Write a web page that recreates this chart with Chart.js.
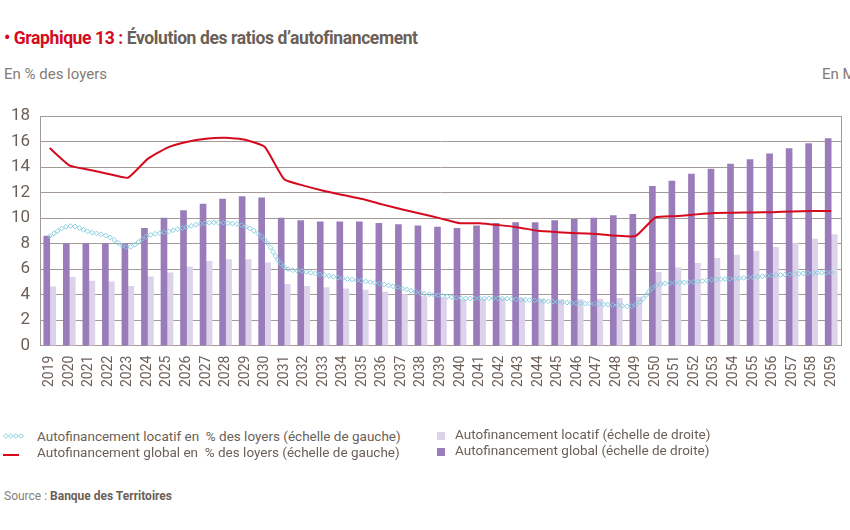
<!DOCTYPE html>
<html lang="fr">
<head>
<meta charset="utf-8">
<script src="https://cdn.jsdelivr.net/npm/chart.js@4.4.1/dist/chart.umd.min.js"></script>
<style>
  html, body { margin: 0; padding: 0; background: #fff; overflow: hidden; }
  body { width: 850px; height: 530px; position: relative; font-family: "Liberation Sans Narrow", "Roboto", "Liberation Sans", sans-serif; }
  .abs { position: absolute; white-space: nowrap; }
  #title { left: 4px; top: 28px; font-size: 17.5px; font-weight: bold; color: #6b5f58; letter-spacing: -0.4px; }
  #title .red { color: #d50a1e; }
  .unit { top: 65px; font-size: 15px; color: #857b76; }
  #wrap { position: absolute; left: 0; top: 96px; width: 850px; height: 293px; }
  .leg { font-size: 13.5px; color: #6b5f58; }
  .sq { position: absolute; width: 8px; height: 8px; }
  #source { left: 4px; top: 489px; font-size: 12px; color: #8a807a; }
  #source b { color: #6b5f58; }
</style>
</head>
<body>
<div id="title" class="abs"><span class="red">&bull; Graphique 13 :</span> Évolution des ratios d’autofinancement</div>
<div class="abs unit" style="left:4px">En % des loyers</div>
<div class="abs unit" style="left:822px">En Md€</div>

<div id="wrap"><canvas id="ratios"></canvas></div>

<!-- legende -->
<canvas id="legDiam" class="abs" width="24" height="10" style="left:2px;top:431px"></canvas>
<div class="abs leg" style="left:37px;top:428px">Autofinancement locatif en&nbsp; % des loyers (échelle de gauche)</div>
<div class="abs" style="left:3px;top:454px;width:16px;height:2px;background:#d50a1e"></div>
<div class="abs leg" style="left:37px;top:444px">Autofinancement global en&nbsp; % des loyers (échelle de gauche)</div>
<div class="sq" style="left:437px;top:432px;background:#dcd3ea"></div>
<div class="abs leg" style="left:455px;top:426px">Autofinancement locatif (échelle de droite)</div>
<div class="sq" style="left:437px;top:448px;background:#9a7cbb"></div>
<div class="abs leg" style="left:455px;top:442px">Autofinancement global (échelle de droite)</div>

<div id="source" class="abs">Source : <b>Banque des Territoires</b></div>

<script>
// years 2019..2059
const years = ['2019','2020','2021','2022','2023','2024','2025','2026','2027','2028',
  '2029','2030','2031','2032','2033','2034','2035','2036','2037','2038',
  '2039','2040','2041','2042','2043','2044','2045','2046','2047','2048',
  '2049','2050','2051','2052','2053','2054','2055','2056','2057','2058','2059'];

// left axis, % des loyers
const locatifPct = [8.6,9.37,8.93,8.55,7.72,8.6,8.93,9.3,9.62,9.62,
  9.35,8.3,6.17,5.82,5.55,5.27,5.07,4.82,4.5,4.12,
  3.92,3.72,3.7,3.7,3.62,3.52,3.42,3.32,3.27,3.17,
  3.2,4.67,4.92,5.0,5.17,5.25,5.37,5.5,5.6,5.7,5.72];
const globalPct = [15.5,14.15,13.8,13.47,13.17,14.63,15.52,15.97,16.23,16.3,
  16.15,15.6,13.05,12.55,12.15,11.82,11.5,11.08,10.7,10.35,
  9.98,9.6,9.6,9.45,9.27,9.0,8.9,8.82,8.75,8.62,
  8.6,10.05,10.15,10.28,10.4,10.42,10.45,10.47,10.52,10.55,10.55];

// right axis (bars)
const locatifBar = [4.6,5.35,5.05,5.0,4.65,5.4,5.7,6.15,6.6,6.75,
  6.75,6.5,4.8,4.65,4.55,4.45,4.35,4.2,4.0,3.85,
  3.7,3.6,3.65,3.7,3.7,3.65,3.6,3.6,3.65,3.7,
  3.8,5.75,6.1,6.45,6.85,7.1,7.4,7.7,8.05,8.35,8.7];
const globalBar = [8.6,8.0,8.0,8.0,8.0,9.2,10.0,10.6,11.1,11.5,
  11.7,11.6,10.0,9.8,9.7,9.7,9.7,9.6,9.5,9.4,
  9.3,9.2,9.4,9.6,9.65,9.65,9.8,9.9,10.0,10.2,
  10.3,12.5,12.9,13.45,13.85,14.25,14.6,15.05,15.45,15.85,16.25];

const yTicks = [0, 2, 4, 6, 8, 10, 12, 14, 16, 18];

const CYAN = '#86cfe0';
const TXT = '#6b5f58';
const GRID = '#a39a95';
const FONT = '"Liberation Sans Narrow", "Roboto", "Liberation Sans", sans-serif';

function diamond(ctx, x, y, r) {
  ctx.beginPath();
  ctx.moveTo(x, y - r);
  ctx.lineTo(x + r, y);
  ctx.lineTo(x, y + r);
  ctx.lineTo(x - r, y);
  ctx.closePath();
  ctx.stroke();
}

// chain of small diamonds along the (smoothed) locatif line
const diamondChain = {
  id: 'diamondChain',
  afterDatasetsDraw(chart) {
    const meta = chart.getDatasetMeta(0);
    const pts = meta.data;
    const ctx = chart.ctx;
    ctx.save();
    ctx.strokeStyle = CYAN;
    ctx.lineWidth = 1;
    const gap = 4.4;
    let carry = 0;
    let px = pts[0].x, py = pts[0].y;
    diamond(ctx, px, py, 2.4);
    for (let i = 0; i < pts.length - 1; i++) {
      const a = pts[i], b = pts[i + 1];
      const c1x = a.cp2x ?? a.x, c1y = a.cp2y ?? a.y;
      const c2x = b.cp1x ?? b.x, c2y = b.cp1y ?? b.y;
      const steps = 40;
      for (let s = 1; s <= steps; s++) {
        const t = s / steps, u = 1 - t;
        const x = u*u*u*a.x + 3*u*u*t*c1x + 3*u*t*t*c2x + t*t*t*b.x;
        const y = u*u*u*a.y + 3*u*u*t*c1y + 3*u*t*t*c2y + t*t*t*b.y;
        carry += Math.hypot(x - px, y - py);
        if (carry >= gap) {
          diamond(ctx, x, y, 2.4);
          carry = 0;
        }
        px = x; py = y;
      }
    }
    ctx.restore();
  }
};

// frame around plot area
const frame = {
  id: 'frame',
  beforeDatasetsDraw(chart) {
    const { ctx, chartArea: a } = chart;
    ctx.save();
    ctx.strokeStyle = GRID;
    ctx.lineWidth = 1;
    ctx.strokeRect(Math.round(a.left) + 0.5, Math.round(a.top) + 0.5, Math.round(a.right - a.left), Math.round(a.bottom - a.top));
    ctx.restore();
  }
};

new Chart(document.getElementById('ratios'), {
  data: {
    labels: years,
    datasets: [
      {
        type: 'line',
        label: 'Autofinancement locatif en % des loyers (échelle de gauche)',
        data: locatifPct,
        yAxisID: 'y',
        borderColor: 'rgba(0,0,0,0)',
        borderWidth: 1,
        pointRadius: 0,
        tension: 0.4,
        order: 1
      },
      {
        type: 'line',
        label: 'Autofinancement global en % des loyers (échelle de gauche)',
        data: globalPct,
        yAxisID: 'y',
        borderColor: '#d50a1e',
        borderWidth: 2,
        pointRadius: 0,
        tension: 0.15,
        order: 0
      },
      {
        type: 'bar',
        label: 'Autofinancement locatif (échelle de droite)',
        data: locatifBar,
        yAxisID: 'y1',
        backgroundColor: '#dcd3ea',
        barThickness: 6,
        order: 3
      },
      {
        type: 'bar',
        label: 'Autofinancement global (échelle de droite)',
        data: globalBar,
        yAxisID: 'y1',
        backgroundColor: '#9a7cbb',
        barThickness: 6,
        order: 2
      }
    ]
  },
  options: {
    responsive: true,
    maintainAspectRatio: false,
    animation: false,
    datasets: {
      bar: { categoryPercentage: 0.61, barPercentage: 1 }
    },
    layout: { padding: { left: 0, right: 2, top: 4, bottom: 0 } },
    scales: {
      x: {
        grid: { display: false },
        border: { display: false },
        ticks: {
          color: TXT,
          font: { family: FONT, size: 14 },
          minRotation: 90,
          maxRotation: 90,
          padding: 2,
          autoSkip: false
        }
      },
      y: {
        position: 'left',
        min: 0,
        max: 18,
        afterBuildTicks(scale) { scale.ticks = yTicks.map(v => ({ value: v })); },
        afterFit(scale) { scale.width = 40; },
        grid: { color: GRID, lineWidth: 1, drawTicks: false },
        border: { display: false },
        ticks: {
          color: TXT,
          font: { family: FONT, size: 17 },
          padding: 10
        }
      },
      y1: {
        position: 'right',
        min: 0,
        max: 18,
        display: false
      }
    },
    plugins: {
      legend: { display: false },
      tooltip: { enabled: false }
    }
  },
  plugins: [frame, diamondChain]
});

// legend swatch for the diamond line
(function () {
  const c = document.getElementById('legDiam').getContext('2d');
  c.strokeStyle = CYAN;
  c.lineWidth = 1;
  for (let i = 0; i < 4; i++) diamond(c, 4 + i * 5, 5, 2.4);
})();
</script>
</body>
</html>
